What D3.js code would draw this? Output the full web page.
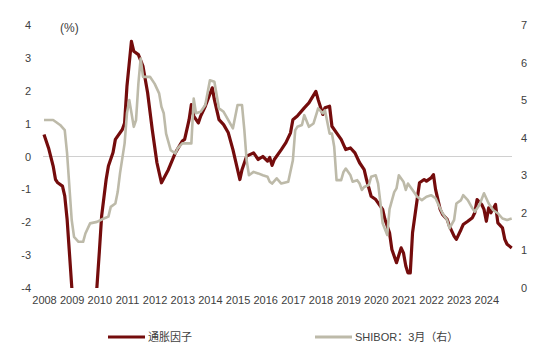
<!DOCTYPE html>
<html><head><meta charset="utf-8">
<script src="https://cdn.jsdelivr.net/npm/d3@7"></script>
<style>
html,body{margin:0;padding:0;background:#fff;}
text{font-family:"Liberation Sans",Arial,"Noto Sans CJK SC",sans-serif;}
</style></head>
<body><svg id="c" width="550" height="356"></svg>
<script>
// ---- data ----
const inflationDates = ["2008-01","2008-03","2008-05","2008-06","2008-07","2008-09","2008-10","2008-11","2008-12","2009-01","2009-02","2009-04","2009-07","2009-09","2009-11","2009-12","2010-01","2010-02","2010-04","2010-05","2010-07","2010-08","2010-11","2010-12","2011-01","2011-03","2011-04","2011-06","2011-08","2011-10","2011-12","2012-02","2012-04","2012-07","2012-10","2013-01","2013-02","2013-04","2013-05","2013-06","2013-08","2013-09","2013-11","2014-02","2014-03","2014-05","2014-07","2014-09","2014-11","2015-02","2015-03","2015-05","2015-08","2015-10","2015-12","2016-02","2016-03","2016-04","2016-05","2016-08","2016-10","2016-12","2017-01","2017-03","2017-06","2017-08","2017-11","2017-12","2018-02","2018-03","2018-05","2018-06","2018-08","2018-10","2018-12","2019-02","2019-04","2019-06","2019-08","2019-09","2019-11","2020-01","2020-04","2020-05","2020-07","2020-08","2020-10","2020-12","2021-01","2021-02","2021-03","2021-04","2021-05","2021-07","2021-08","2021-10","2021-11","2022-01","2022-02","2022-03","2022-05","2022-06","2022-08","2022-09","2022-11","2022-12","2023-02","2023-03","2023-05","2023-07","2023-08","2023-09","2023-11","2023-12","2024-01","2024-02","2024-03","2024-05","2024-06","2024-08","2024-09","2024-10","2024-12"];
const inflationValues = [0.67,0.26,-0.29,-0.70,-0.80,-0.90,-1.20,-1.90,-2.90,-3.94,-5.0,-6.2,-6.8,-6.0,-4.8,-3.94,-2.90,-1.80,-0.70,-0.29,0.12,0.52,0.82,1.02,2.14,3.50,3.20,3.10,2.74,1.94,0.82,-0.19,-0.80,-0.40,0.11,0.47,0.52,1.12,1.58,1.23,1.02,1.23,1.53,2.09,1.73,1.12,0.97,0.72,0.21,-0.70,-0.40,0.01,0.11,-0.09,0.00,-0.14,-0.03,-0.27,-0.09,0.21,0.42,0.72,1.12,1.23,1.48,1.63,1.98,1.73,1.28,1.48,1.53,0.92,0.72,0.52,0.21,0.26,0.11,-0.19,-0.40,-0.70,-1.21,-1.31,-1.61,-1.91,-2.32,-2.83,-3.23,-2.78,-2.93,-3.33,-3.54,-3.54,-2.32,-1.31,-0.80,-0.70,-0.75,-0.65,-0.55,-1.00,-1.61,-1.76,-1.91,-2.12,-2.42,-2.52,-2.22,-2.07,-1.97,-1.86,-1.71,-1.31,-1.46,-1.61,-1.97,-1.56,-1.71,-1.46,-2.02,-2.17,-2.52,-2.67,-2.78];

const shiborDates = ["2008-01","2008-05","2008-08","2008-10","2008-11","2009-01","2009-02","2009-04","2009-06","2009-07","2009-09","2009-12","2010-03","2010-05","2010-06","2010-08","2010-09","2010-10","2010-12","2011-01","2011-02","2011-04","2011-05","2011-06","2011-07","2011-08","2011-11","2012-01","2012-03","2012-04","2012-05","2012-06","2012-08","2012-10","2012-11","2013-01","2013-03","2013-05","2013-06","2013-07","2013-09","2013-11","2014-01","2014-03","2014-05","2014-07","2014-09","2014-11","2015-01","2015-03","2015-04","2015-05","2015-06","2015-08","2015-10","2015-12","2016-02","2016-03","2016-04","2016-06","2016-08","2016-11","2017-01","2017-02","2017-03","2017-05","2017-06","2017-08","2017-10","2017-12","2018-02","2018-03","2018-05","2018-06","2018-07","2018-08","2018-10","2018-11","2018-12","2019-02","2019-03","2019-05","2019-06","2019-07","2019-08","2019-10","2019-11","2020-01","2020-02","2020-03","2020-04","2020-06","2020-07","2020-09","2020-10","2020-11","2021-01","2021-02","2021-03","2021-05","2021-07","2021-09","2021-11","2022-01","2022-03","2022-04","2022-06","2022-08","2022-09","2022-11","2022-12","2023-02","2023-03","2023-05","2023-07","2023-08","2023-10","2023-12","2024-02","2024-04","2024-06","2024-08","2024-10","2024-12"];
const shiborValues = [4.47,4.47,4.34,4.20,3.58,1.81,1.36,1.23,1.23,1.45,1.72,1.76,1.85,1.90,2.16,2.25,2.56,3.05,3.85,4.65,5.00,4.29,4.47,5.44,6.11,5.62,5.62,5.44,5.18,4.82,4.65,4.11,3.67,3.58,3.72,3.85,3.85,3.85,5.04,4.65,4.69,4.87,5.53,5.49,4.78,4.69,4.47,4.25,4.87,4.87,4.20,3.40,3.00,3.09,3.05,3.00,2.96,2.83,2.78,2.92,2.78,2.83,3.40,4.20,4.29,4.34,4.60,4.29,4.38,4.78,4.65,4.73,4.11,4.11,3.76,2.87,2.87,3.09,3.18,3.00,2.83,2.87,2.78,2.61,2.69,2.74,2.96,3.00,2.78,2.30,1.72,1.41,2.10,2.55,2.65,3.00,2.83,2.61,2.78,2.61,2.43,2.34,2.43,2.47,2.39,2.25,1.99,1.81,1.59,1.81,2.25,2.34,2.47,2.34,2.12,2.03,2.21,2.52,2.25,2.07,1.99,1.85,1.81,1.85];

const yearLabels = ["2008","2009","2010","2011","2012","2013","2014","2015","2016","2017","2018","2019","2020","2021","2022","2023","2024"];
const leftTicks = [-4,-3,-2,-1,0,1,2,3,4];
const rightTicks = [0,1,2,3,4,5,6,7];
const seriesNames = ["通胀因子","SHIBOR：3月（右）"];

// ---- drawing ----
const parse = d3.timeParse("%Y-%m");
const svg = d3.select("#c");
const x = d3.scaleTime().domain([parse("2008-01"), parse("2024-12")]).range([44, 511.7]);
const yL = d3.scaleLinear().domain([-4, 4]).range([288, 25]);
const yR = d3.scaleLinear().domain([0, 7]).range([288, 25]);

const inflation = inflationDates.map((d,i)=>({date:parse(d), v:inflationValues[i]}));
const shibor = shiborDates.map((d,i)=>({date:parse(d), v:shiborValues[i]}));

svg.append("defs").append("clipPath").attr("id","clip")
  .append("rect").attr("x",0).attr("y",0).attr("width",550).attr("height",288);

// zero line
svg.append("line").attr("x1",43).attr("x2",512).attr("y1",yL(0)).attr("y2",yL(0))
  .attr("stroke","#d0d0d0").attr("stroke-width",1);

const txtColor = "#404040";
// left axis
const axL = d3.axisLeft(yL).tickValues(leftTicks).tickSize(0).tickPadding(0).tickFormat(d=>String(d));
const gL = svg.append("g").attr("transform","translate(31,0)").call(axL);
gL.select(".domain").remove();
gL.selectAll("text").attr("font-size","11px").attr("fill",txtColor);

// right axis
const axR = d3.axisRight(yR).tickValues(rightTicks).tickSize(0).tickPadding(0).tickFormat(d=>String(d));
const gR = svg.append("g").attr("transform","translate(521,0)").call(axR);
gR.select(".domain").remove();
gR.selectAll("text").attr("font-size","11px").attr("fill",txtColor);

// x axis
const axX = d3.axisBottom(x).tickValues(yearLabels.map(y=>parse(y+"-01"))).tickSize(0).tickPadding(0)
  .tickFormat((d,i)=>yearLabels[i]);
const gX = svg.append("g").attr("transform","translate(0,296)").call(axX);
gX.select(".domain").remove();
gX.selectAll("text").attr("font-size","11px").attr("fill",txtColor);

// unit
svg.append("text").attr("x",60).attr("y",32).attr("font-size","12px").attr("fill",txtColor).text("(%)");

const plot = svg.append("g").attr("clip-path","url(#clip)");
plot.append("path").datum(inflation)
  .attr("d", d3.line().x(d=>x(d.date)).y(d=>yL(d.v)))
  .attr("fill","none").attr("stroke","#740c0c").attr("stroke-width",3.2).attr("stroke-linejoin","round");
plot.append("path").datum(shibor)
  .attr("d", d3.line().x(d=>x(d.date)).y(d=>yR(d.v)))
  .attr("fill","none").attr("stroke","#bdbaa9").attr("stroke-width",2.6).attr("stroke-linejoin","round");

// legend
const leg = svg.append("g");
leg.append("line").attr("x1",108).attr("x2",145).attr("y1",337).attr("y2",337).attr("stroke","#740c0c").attr("stroke-width",3.2);
leg.append("text").attr("x",148).attr("y",341).attr("font-size","11px").attr("fill",txtColor).text(seriesNames[0]);
leg.append("line").attr("x1",315).attr("x2",352).attr("y1",337).attr("y2",337).attr("stroke","#bdbaa9").attr("stroke-width",3);
leg.append("text").attr("x",355).attr("y",341).attr("font-size","11px").attr("fill",txtColor).text(seriesNames[1]);
</script></body></html>
